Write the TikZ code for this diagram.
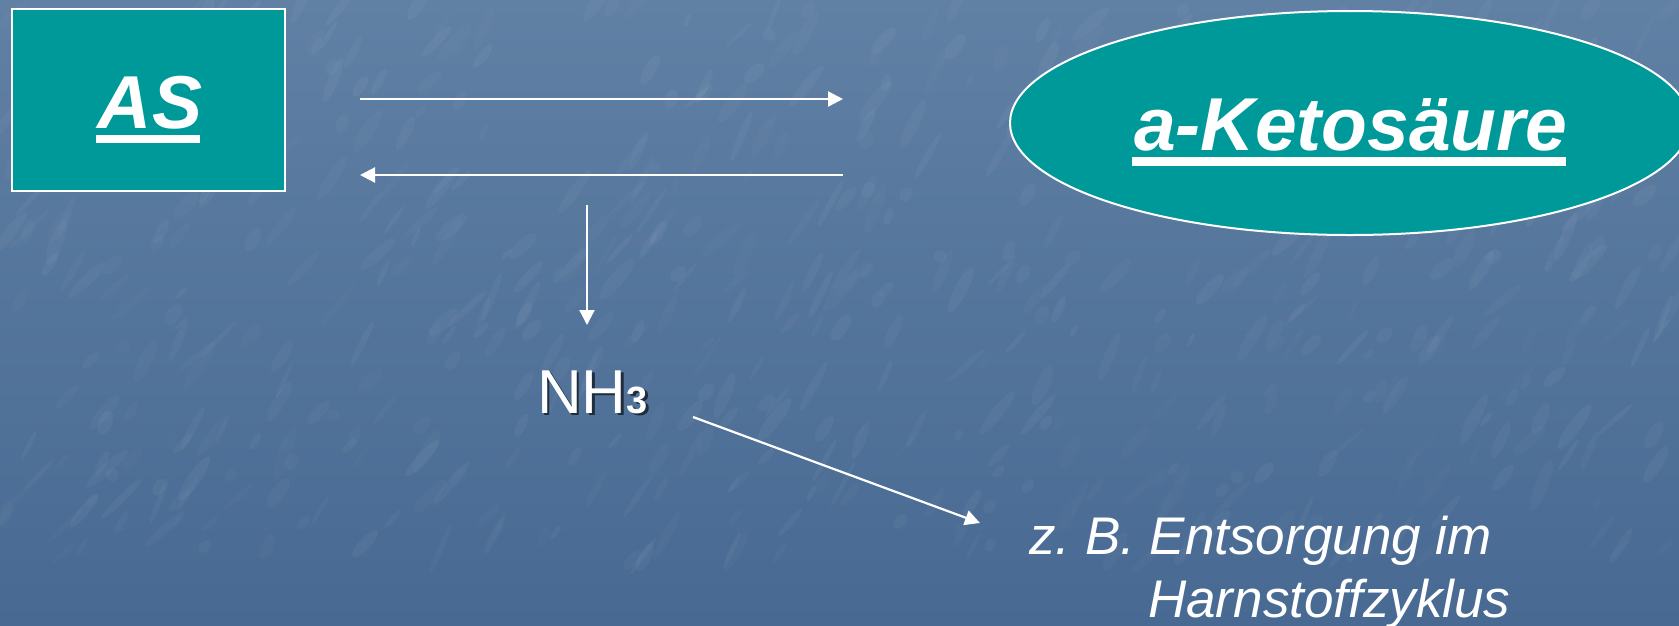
\documentclass[tikz,border=0pt]{standalone}
\usepackage{fontspec}
\setmainfont{Liberation Sans}
\usetikzlibrary{arrows.meta,calc,shapes.geometric}

\definecolor{bgtop}{RGB}{96,128,164}
\definecolor{bgbottom}{RGB}{72,105,146}
\definecolor{teal}{RGB}{0,153,153}

\tikzset{
  flow/.style={draw=white, line width=2.2pt,
    -{Triangle[length=15pt,width=15pt]}},
  titlefont/.style={font=\fontsize{75pt}{90pt}\selectfont\bfseries\itshape,
    text=white, inner sep=0pt},
  notefont/.style={font=\fontsize{53pt}{64pt}\selectfont\itshape\frenchspacing,
    text=white, inner sep=0pt},
  underbar/.style={fill=white},
  grain/.style={fill=white},
}

\begin{document}
\begin{tikzpicture}[x=1pt, y=-1pt]
  \useasboundingbox (0,0) rectangle (1679,625);
  \clip (0,0) rectangle (1679,625);

  % slide background with a faint marbled grain
  \shade[top color=bgtop, bottom color=bgbottom] (0,0) rectangle (1679,625);
  \pgfmathsetseed{4711}
  \foreach \i in {1,...,600} {
    \pgfmathsetmacro\px{rnd*1679}
    \pgfmathsetmacro\py{rnd*560}
    \pgfmathsetmacro\rx{6+rnd*22}
    \pgfmathsetmacro\ry{2+rnd*5}
    \pgfmathsetmacro\ang{40+rnd*30}
    \pgfmathsetmacro\op{0.015+rnd*0.03}
    \fill[grain, opacity=\op, rotate around={\ang:(\px,\py)}]
      (\px,\py) ellipse ({\rx} and {\ry});
  }

  % amino acid box
  \node[draw=white, line width=2.5pt, fill=teal, rectangle,
        minimum width=273pt, minimum height=182pt, inner sep=0pt]
        (asbox) at (148.5,100) {};
  \node[titlefont, anchor=base] (ast) at (150,128) {AS};
  \fill[underbar] ($(ast.base west)+(-2,7)$) rectangle ($(ast.base east)+(-2,15)$);

  % keto acid ellipse
  \node[draw=white, line width=2pt, fill=teal, ellipse,
        minimum width=680pt, minimum height=224pt, inner sep=0pt]
        (keto) at (1350,123) {};
  \node[titlefont, anchor=base] (ketot) at (1351,150) {a-Ketosäure};
  \fill[underbar] ($(ketot.base west)+(-2,7)$) rectangle ($(ketot.base east)+(-2,16)$);

  % reversible transamination
  \coordinate (fwdA) at (360,99);
  \coordinate (fwdB) at (843,99);
  \coordinate (revA) at (843,175);
  \coordinate (revB) at (360,175);
  \draw[flow] (fwdA) -- (fwdB);
  \draw[flow] (revA) -- (revB);

  % ammonia release
  \coordinate (downA) at (587,205);
  \coordinate (downB) at (587,325);
  \draw[flow] (downA) -- (downB);

  \node[anchor=base west, inner sep=0pt, text=black, opacity=0.6,
        font=\fontsize{62pt}{70pt}\selectfont]
        (nhshadow) at (539.5,415.5) {NH\fontsize{38pt}{40pt}\selectfont\bfseries 3};
  \node[anchor=base west, inner sep=0pt, text=white,
        font=\fontsize{62pt}{70pt}\selectfont]
        (nh) at (537,413) {NH\fontsize{38pt}{40pt}\selectfont\bfseries 3};

  % disposal
  \coordinate (diagA) at (693,417);
  \coordinate (diagB) at (980,523);
  \draw[flow] (diagA) -- (diagB);

  \node[notefont, anchor=base west] (note1) at (1029,554) {z. B. Entsorgung im};
  \node[notefont, anchor=base west] (note2) at (1148,617) {Harnstoffzyklus};
\end{tikzpicture}
\end{document}
